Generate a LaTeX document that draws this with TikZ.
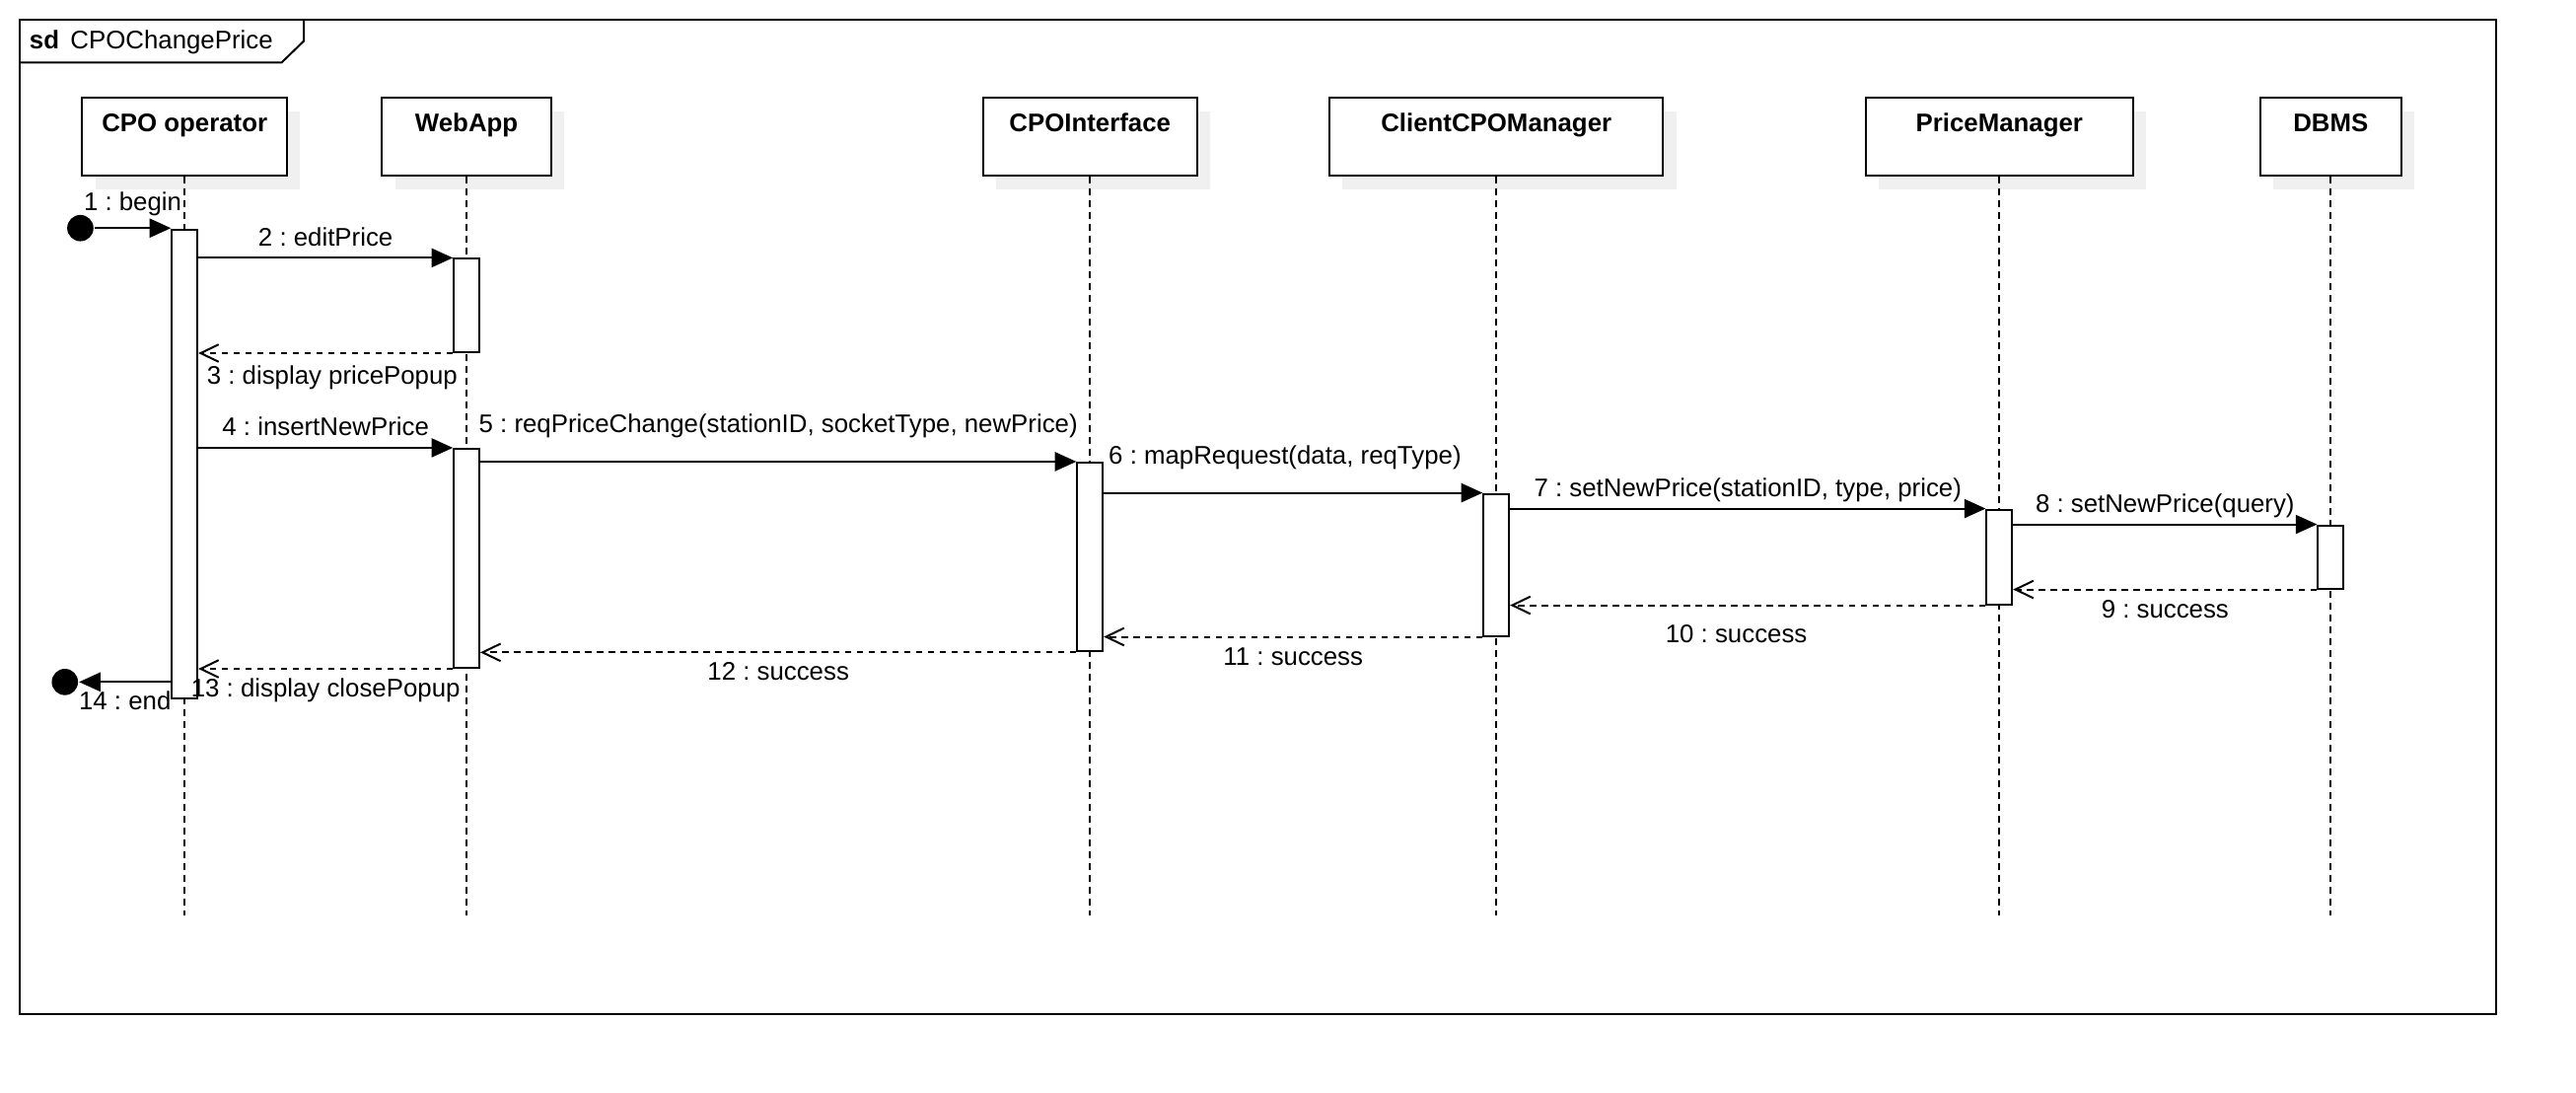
\documentclass[tikz,border=0pt]{standalone}
\usepackage{fontspec}
\setmainfont{Liberation Sans}
\usetikzlibrary{arrows.meta,shadows}
\frenchspacing
\begin{document}
\begin{tikzpicture}[x=1pt,y=-1pt,line width=1.2pt,
  font=\fontsize{15.5}{18}\selectfont,
  hdr/.style={draw,fill=white,inner xsep=0pt,inner ysep=0pt,text height=20.4pt,text depth=27pt,
    font=\fontsize{15.5}{18}\selectfont\bfseries,
    drop shadow={shadow xshift=8pt,shadow yshift=-8pt,fill=black!6,opacity=1}},
  act/.style={draw,fill=white,minimum width=15.5pt,inner sep=0pt,anchor=north},
  life/.style={line width=1pt,dash pattern=on 4pt off 3.2pt},
  call/.style={-{Triangle[length=13pt,width=11.5pt]}},
  ret/.style={dash pattern=on 4pt off 3.2pt,-{Straight Barb[length=11pt,width=10.6pt]}},
  dot/.style={circle,fill,inner sep=0pt,minimum size=16pt},
  msgup/.style={midway,anchor=base,yshift=#1},
  msgdn/.style={midway,anchor=base,yshift=-#1}]
\useasboundingbox (0,0) rectangle (1568,665);
\draw (12,12) rectangle (1519.5,617);
\draw (12,38) -- (171.5,38) -- (184.9,25) -- (184.9,12);
\node[anchor=base west,inner sep=0pt] (title) at (17.4,30) {\textbf{sd}\hspace{6.8pt}CPOChangePrice};
\node[hdr,minimum width=124.6pt] (cpo) at (112.4,83.3) {CPO operator};
\node[hdr,minimum width=102.9pt] (web) at (284,83.3) {WebApp};
\node[hdr,minimum width=130.6pt] (cpoif) at (663.5,83.3) {CPOInterface};
\node[hdr,minimum width=203.2pt] (client) at (910.8,83.3) {ClientCPOManager};
\node[hdr,minimum width=162.6pt] (price) at (1217,83.3) {PriceManager};
\node[hdr,minimum width=86.1pt] (dbms) at (1418.7,83.3) {DBMS};
\coordinate (lifeEnd) at (0,557);
\foreach \n in {cpo,web,cpoif,client,price,dbms}
  \draw[life] (\n.south) -- (\n.south |- lifeEnd);
\node[act,minimum height=285.6pt] (cpoAct) at (cpo.south |- 0,139) {};
\node[act,minimum height=56.8pt] (webAct1) at (web.south |- 0,156.9) {};
\node[act,minimum height=133.3pt] (webAct2) at (web.south |- 0,272.5) {};
\node[act,minimum height=114.9pt] (cpoifAct) at (cpoif.south |- 0,280.9) {};
\node[act,minimum height=86.4pt] (clientAct) at (client.south |- 0,299.9) {};
\node[act,minimum height=57.6pt] (priceAct) at (price.south |- 0,309.5) {};
\node[act,minimum height=38.4pt] (dbmsAct) at (dbms.south |- 0,319.1) {};
\node[dot] (start) at (48.9,138.8) {};
\node[dot] (stop) at (39.5,415) {};
\draw[call] (start) -- (start -| cpoAct.west) node[msgup=10.8pt] {1 : begin};
\draw[call] (cpoAct.east |- webAct1.north) -- (webAct1.north west) node[msgup=7.1pt] {2 : editPrice};
\draw[ret] (webAct1.south west) -- (webAct1.south west -| cpoAct.east) node[msgdn=18.9pt,xshift=4pt] {3 : display pricePopup};
\draw[call] (cpoAct.east |- webAct2.north) -- (webAct2.north west) node[msgup=7.3pt] {4 : insertNewPrice};
\draw[call] (webAct2.east |- cpoifAct.north) -- (cpoifAct.north west) node[msgup=17.6pt] {5 : reqPriceChange(stationID, socketType, newPrice)};
\draw[call] (cpoifAct.east |- clientAct.north) -- (clientAct.north west) node[msgup=17.6pt,xshift=-5pt] {6 : mapRequest(data, reqType)};
\draw[call] (clientAct.east |- priceAct.north) -- (priceAct.north west) node[msgup=7.2pt] {7 : setNewPrice(stationID, type, price)};
\draw[call] (priceAct.east |- dbmsAct.north) -- (dbmsAct.north west) node[msgup=7pt] {8 : setNewPrice(query)};
\draw[ret] (dbmsAct.south west) -- (dbmsAct.south west -| priceAct.east) node[msgdn=17.6pt] {9 : success};
\draw[ret] (priceAct.south west) -- (priceAct.south west -| clientAct.east) node[msgdn=22.7pt,xshift=-7pt] {10 : success};
\draw[ret] (clientAct.south west) -- (clientAct.south west -| cpoifAct.east) node[msgdn=17.3pt] {11 : success};
\draw[ret] (cpoifAct.south west) -- (cpoifAct.south west -| webAct2.east) node[msgdn=17.1pt] {12 : success};
\draw[ret] (webAct2.south west) -- (webAct2.south west -| cpoAct.east) node[msgdn=17.1pt] {13 : display closePopup};
\draw[call] (cpoAct.west |- stop) -- (stop) node[msgdn=16.8pt] {14 : end};
\end{tikzpicture}
\end{document}
